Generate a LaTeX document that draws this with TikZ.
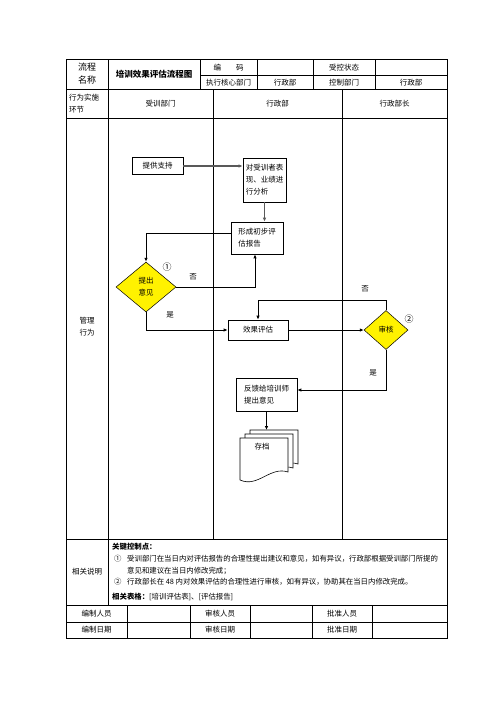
\documentclass[tikz,border=0pt]{standalone}
\usepackage{fontspec}
\setmainfont{Noto Sans CJK SC}
\usetikzlibrary{arrows.meta,shapes.geometric}
\begin{document}
\begin{tikzpicture}[x=1pt,y=-1pt,
 tbl/.style={line width=0.7pt},
 txt/.style={font=\fontsize{7.5}{12}\selectfont, inner sep=0pt},
 body/.style={font=\fontsize{7.4}{9}\selectfont, inner sep=0pt, anchor=west},
 box/.style={draw, line width=0.7pt, font=\fontsize{7.5}{12}\selectfont, inner sep=0pt},
 dia/.style={draw, diamond, fill=yellow, line width=0.5pt, inner sep=0pt, font=\fontsize{7.5}{12}\selectfont, align=center},
 arr/.style={-{Latex[length=4pt,width=3.5pt]}, line width=0.8pt},
 garr/.style={arr, draw=black!65, line width=1.3pt},
 docsh/.style={fill=white, draw=black, line width=0.6pt},
]
\useasboundingbox (0,0) rectangle (496,702);
\fill[white] (0,0) rectangle (496,702);
% table
\draw[tbl] (66,59) rectangle (447,638);
\draw[tbl] (66,89) -- (447,89);
\draw[tbl] (200,75.7) -- (447,75.7);
\draw[tbl] (66,118) -- (447,118);
\draw[tbl] (66,539) -- (447,539);
\draw[tbl] (66,605) -- (447,605);
\draw[tbl] (66,622) -- (447,622);
\draw[tbl] (108,59) -- (108,605);
\foreach \x in {200,257,313,375} \draw[tbl] (\x,59) -- (\x,89);
\foreach \x in {213,342} \draw[tbl] (\x,89) -- (\x,539);
\foreach \x in {127,190,250,312,372} \draw[tbl] (\x,605) -- (\x,638);
% header texts
\node[txt, font=\fontsize{9}{13}\selectfont, align=center] (hname) at (87,74) {流程\\名称};
\node[txt, font=\bfseries\fontsize{8.5}{10}\selectfont] (htitle) at (154,74) {培训效果评估流程图};
\node[txt] (hcode) at (228.5,67.5) {编\hspace{2em}码};
\node[txt] (hstat) at (344,67.5) {受控状态};
\node[txt] (hexec) at (228.5,82.5) {执行核心部门};
\node[txt] (hxz1) at (285,82.5) {行政部};
\node[txt] (hctl) at (344,82.5) {控制部门};
\node[txt] (hxz2) at (411,82.5) {行政部};
\node[txt, align=left, anchor=west] (hstep) at (69,104) {行为实施\\环节};
\node[txt] (l1) at (160.5,104) {受训部门};
\node[txt] (l2) at (277.5,104) {行政部};
\node[txt] (l3) at (394.5,104) {行政部长};
\node[txt, align=center] (mgmt) at (87,327) {管理\\行为};
\node[txt] (rel) at (87,572) {相关说明};
% notes
\node[body, font=\bfseries\fontsize{7.4}{9}\selectfont] (kc) at (112,547) {关键控制点：};
\node[body] (i1a) at (114,559) {①};
\node[body] (i1b) at (127,559) {受训部门在当日内对评估报告的合理性提出建议和意见，如有异议，行政部根据受训部门所提的};
\node[body] (i1c) at (127,571) {意见和建议在当日内修改完成；};
\node[body] (i2a) at (114,582) {②};
\node[body] (i2b) at (127,582) {行政部长在 48 内对效果评估的合理性进行审核，如有异议，协助其在当日内修改完成。};
\node[body] (tabs) at (112,597) {\textbf{相关表格：}[培训评估表]、[评估报告]};
% bottom rows
\node[txt] (b1) at (96.5,613.5) {编制人员};
\node[txt] (b2) at (220,613.5) {审核人员};
\node[txt] (b3) at (342,613.5) {批准人员};
\node[txt] (b4) at (96.5,630) {编制日期};
\node[txt] (b5) at (220,630) {审核日期};
\node[txt] (b6) at (342,630) {批准日期};
% flow nodes
\node[box, minimum width=51pt, minimum height=17pt] (sup) at (157.5,166) {提供支持};
\node[box, minimum width=43pt, minimum height=44pt, align=left] (ana) at (264.5,180) {对受训者表\\现、业绩进\\行分析};
\node[box, minimum width=52pt, minimum height=32pt, align=left] (rep) at (257,238) {形成初步评\\估报告};
\node[dia, minimum width=60pt, minimum height=50pt] (d1) at (146,287) {提出\\意见};
\node[box, minimum width=60pt, minimum height=20pt] (eval) at (258,330) {效果评估};
\node[dia, minimum width=44pt, minimum height=39pt] (d2) at (386,330) {审核};
\node[box, minimum width=61pt, minimum height=33pt, align=left] (fb) at (266.5,394.5) {反馈给培训师\\提出意见};
% document stack
\foreach \dx/\dy in {10/-8, 5/-4, 0/0} {
  \filldraw[docsh] (240+\dx,438+\dy) -- (288+\dx,438+\dy) -- (288+\dx,472+\dy)
    .. controls (270+\dx,466+\dy) and (258+\dx,488+\dy) .. (240+\dx,480+\dy) -- cycle;
}
\node[txt] (arc) at (262,447) {存档};
\coordinate (dtop) at (266.5,430);
\coordinate (c2) at (386,300);
\coordinate (c3) at (386,390);
% connectors
\draw[garr] (sup.east) -- (sup.east -| ana.west);
\draw[garr] (ana.south) -- (ana.south |- rep.north);
\draw[arr] ([yshift=-12pt]rep.north west) -| (d1.north);
\draw[arr] (d1.east) -| ([xshift=-2pt]rep.south);
\draw[arr] (d1.south) |- (eval.west);
\draw[arr] (eval.east) -- (d2.west);
\draw[arr] (d2.north) -- (c2) -| (eval.north);
\draw[arr] (d2.south) -- (c3) -- (c3 -| fb.east);
\draw[arr] (fb.south) -- (fb.south |- dtop);
% labels
\node[txt, font=\fontsize{9}{10}\selectfont] (n1) at (167,267) {①};
\node[txt] (no1) at (193,277) {否};
\node[txt] (yes1) at (170,315) {是};
\node[txt] (no2) at (365,289) {否};
\node[txt, font=\fontsize{9}{10}\selectfont] (n2) at (409,319) {②};
\node[txt] (yes2) at (373,373) {是};
\end{tikzpicture}
\end{document}
